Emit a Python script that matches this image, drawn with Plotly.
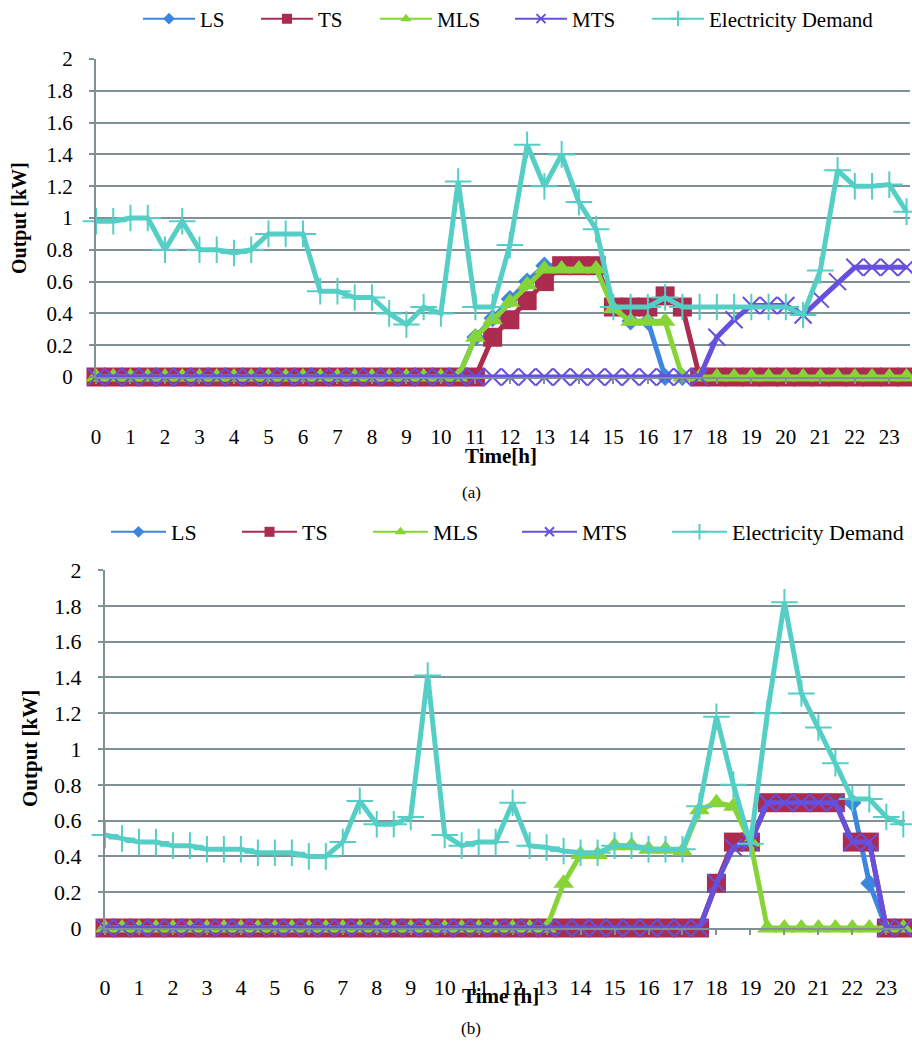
import plotly.graph_objects as go

# ---------------- data ----------------
time_h = [0, 0.5, 1, 1.5, 2, 2.5, 3, 3.5, 4, 4.5, 5, 5.5, 6, 6.5, 7, 7.5,
          8, 8.5, 9, 9.5, 10, 10.5, 11, 11.5, 12, 12.5, 13, 13.5, 14, 14.5, 15, 15.5,
          16, 16.5, 17, 17.5, 18, 18.5, 19, 19.5, 20, 20.5, 21, 21.5, 22, 22.5, 23, 23.5]
hour_ticks = list(range(24))
hour_labels = [str(h) for h in hour_ticks]
y_ticks = [0, 0.2, 0.4, 0.6, 0.8, 1, 1.2, 1.4, 1.6, 1.8, 2]
y_labels = ["0", "0.2", "0.4", "0.6", "0.8", "1", "1.2", "1.4", "1.6", "1.8", "2"]

series_names = ["LS", "TS", "MLS", "MTS", "Electricity Demand"]

# (a)
a_LS = [0]*22 + [0.25, 0.37, 0.49, 0.6, 0.7, 0.7, 0.7, 0.7, 0.44, 0.35, 0.35, 0] + [0]*14
a_TS = [0]*22 + [0, 0.25, 0.36, 0.48, 0.6, 0.7, 0.7, 0.7, 0.44, 0.44, 0.44, 0.51, 0.44, 0] + [0]*12
a_MLS = [0]*22 + [0.25, 0.36, 0.47, 0.58, 0.68, 0.68, 0.68, 0.68, 0.43, 0.35, 0.35, 0.35, 0] + [0]*13
a_MTS = [0]*36 + [0.25, 0.36, 0.45, 0.45, 0.45, 0.39, 0.49, 0.6, 0.69, 0.69, 0.69, 0.69]
a_DEM = [0.98, 0.98, 1.0, 1.0, 0.8, 0.98, 0.8, 0.8, 0.78, 0.8, 0.9, 0.9,
         0.9, 0.54, 0.54, 0.5, 0.5, 0.4, 0.33, 0.44, 0.4, 1.23, 0.44, 0.44,
         0.83, 1.46, 1.2, 1.4, 1.1, 0.93, 0.44, 0.44, 0.44, 0.5, 0.44, 0.44,
         0.44, 0.44, 0.44, 0.44, 0.44, 0.39, 0.67, 1.3, 1.2, 1.2, 1.21, 1.04]

# (b)
b_LS = [0]*36 + [0.25, 0.47, 0.48, 0.7, 0.7, 0.7, 0.7, 0.7, 0.7, 0.25, 0, 0]
b_TS = [0]*36 + [0.25, 0.48, 0.48, 0.7, 0.7, 0.7, 0.7, 0.7, 0.48, 0.48, 0, 0]
b_MLS = [0]*27 + [0.25, 0.41, 0.41, 0.46, 0.46, 0.44, 0.44, 0.43, 0.66, 0.7, 0.68, 0.48] + [0]*9
b_MTS = [0]*36 + [0.25, 0.45, 0.48, 0.7, 0.7, 0.7, 0.7, 0.7, 0.48, 0.48, 0, 0]
b_DEM = [0.52, 0.5, 0.48, 0.48, 0.46, 0.46, 0.44, 0.44, 0.44, 0.42, 0.42, 0.42,
         0.4, 0.4, 0.48, 0.71, 0.58, 0.58, 0.62, 1.41, 0.52, 0.46, 0.48, 0.48,
         0.7, 0.46, 0.45, 0.43, 0.42, 0.42, 0.46, 0.46, 0.44, 0.44, 0.44, 0.68,
         1.18, 0.8, 0.47, 1.2, 1.82, 1.31, 1.12, 0.92, 0.72, 0.72, 0.62, 0.58]

# ---------------- styles ----------------
colors = ["#3d86e0", "#ab2c4f", "#86d437", "#6650dc", "#55cfc6"]
symbols = ["diamond", "square", "triangle-up", "x-thin", "cross-thin"]
msizes = [14, 19, 18, 17, 19]
leg_sizes = [9, 10, 10, 9, 11]
FONT = "Liberation Serif"
GRID = "#7f9096"

W, H = 912, 1044
def px_x(p):
    return p / W
def px_y(p):
    return 1 - p / H

# legend entry positions (left of symbol line, px) per panel
leg_a_x = [143, 261, 380, 515, 652]
leg_b_x = [111, 242, 373, 522, 672]

fig = go.Figure()
legend_layout = {}

def add_panel(data, xa, ya, leg_x, leg_y, leg_base, fs, iw):
    for name, vals, col, sym, ms in zip(series_names, data, colors, symbols, msizes):
        thin = sym.endswith("thin")
        fig.add_trace(go.Scatter(
            x=time_h, y=vals, mode="lines+markers", name=name,
            line=dict(color=col, width=5),
            marker=dict(symbol=sym, size=ms, color=col,
                        line=dict(color=col, width=2 if thin else 0)),
            xaxis=xa, yaxis=ya, showlegend=False, cliponaxis=False,
        ))
    for k, (name, col, sym, ls, lx) in enumerate(zip(series_names, colors, symbols, leg_sizes, leg_x)):
        thin = sym.endswith("thin")
        lname = "legend" if leg_base + k == 1 else f"legend{leg_base + k}"
        fig.add_trace(go.Scatter(
            x=[None], y=[None], mode="lines+markers", name=name,
            line=dict(color=col, width=2),
            marker=dict(symbol=sym, size=ls, color=col,
                        line=dict(color=col, width=2 if thin else 0)),
            xaxis=xa, yaxis=ya, showlegend=True, legend=lname,
        ))
        legend_layout[lname] = dict(
            orientation="h", x=px_x(lx - 5), y=px_y(leg_y), xanchor="left", yanchor="middle",
            itemwidth=iw, font=dict(family=FONT, size=fs, color="black"),
            bgcolor="rgba(0,0,0,0)", borderwidth=0)

add_panel([a_LS, a_TS, a_MLS, a_MTS, a_DEM], "x", "y", leg_a_x, 19, 1, 21, 52)
add_panel([b_LS, b_TS, b_MLS, b_MTS, b_DEM], "x2", "y2", leg_b_x, 532, 6, 22, 55)

def xaxis(domain, rng, fs, standoff):
    return dict(domain=domain, range=rng, tickmode="array", tickvals=hour_ticks,
                ticktext=hour_labels, showgrid=False, zeroline=False,
                showline=True, linecolor=GRID, linewidth=2,
                ticks="outside", ticklen=5, tickwidth=2, tickcolor=GRID,
                ticklabelstandoff=standoff,
                tickfont=dict(family=FONT, size=fs, color="black"))

def yaxis(domain, fs):
    return dict(domain=domain, range=[0, 2], tickmode="array", tickvals=y_ticks,
                ticktext=y_labels, showgrid=True, gridcolor=GRID, gridwidth=2,
                zeroline=False, showline=True, linecolor=GRID, linewidth=2,
                ticks="outside", ticklen=5, tickwidth=2, tickcolor=GRID,
                ticklabelstandoff=12,
                tickfont=dict(family=FONT, size=fs, color="black"))

fig.update_layout(
    width=W, height=H, margin=dict(l=0, r=0, t=0, b=0, autoexpand=False),
    paper_bgcolor="white", plot_bgcolor="white",
    font=dict(family=FONT, size=21, color="black"),
    xaxis=xaxis([px_x(96), px_x(910)], [0, 23.6], 21, 35),
    yaxis=yaxis([px_y(377), px_y(59)], 21),
    xaxis2=dict(xaxis([px_x(105), px_x(905)], [0, 23.55], 22, 34), anchor="y2"),
    yaxis2=dict(yaxis([px_y(928), px_y(570)], 22), anchor="x2"),
    **legend_layout,
)

ann = [
    dict(text="<b>Output [kW]</b>", x=px_x(20), y=px_y(218), textangle=-90, size=20),
    dict(text="<b>Time[h]</b>", x=px_x(501), y=px_y(456), textangle=0, size=21),
    dict(text="(a)", x=px_x(471), y=px_y(492), textangle=0, size=17),
    dict(text="<b>Output [kW]</b>", x=px_x(30), y=px_y(749), textangle=-90, size=21),
    dict(text="<b>Time [h]</b>", x=px_x(500), y=px_y(996), textangle=0, size=21),
    dict(text="(b)", x=px_x(471), y=px_y(1028), textangle=0, size=17),
]
for a in ann:
    fig.add_annotation(text=a["text"], x=a["x"], y=a["y"], xref="paper", yref="paper",
                       xanchor="center", yanchor="middle", showarrow=False,
                       textangle=a["textangle"],
                       font=dict(family=FONT, size=a["size"], color="black"))

fig.write_html("out.html", config={"displayModeBar": False},
               post_script="document.body.style.margin='0';document.body.style.overflow='hidden';")
